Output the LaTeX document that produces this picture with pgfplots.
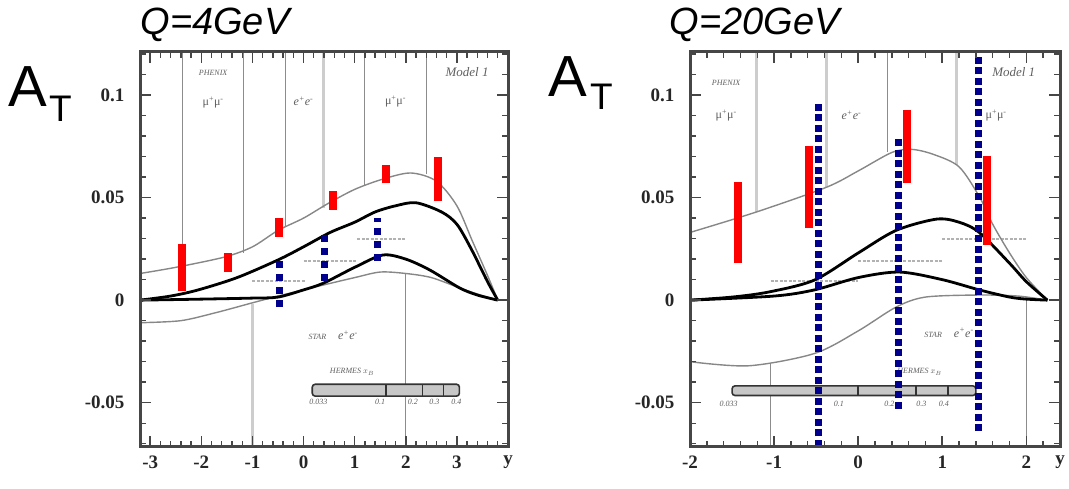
\documentclass[border=0pt]{standalone}
\usepackage{fontspec}
\setmainfont{Liberation Serif}
\newfontfamily\arial{Liberation Sans}
\usepackage{pgfplots}
\pgfplotsset{compat=1.18}
\definecolor{navyb}{RGB}{0,0,140}
\definecolor{thing}{RGB}{135,135,135}
\definecolor{lightv}{RGB}{205,205,205}
\definecolor{lab}{RGB}{95,95,95}
\definecolor{frame}{RGB}{70,70,70}
\pgfplotsset{
 panel/.style={anchor=south west, scale only axis, height=395pt,
   ymin=-0.0716, ymax=0.121,
   ytick={-0.05,0,0.05,0.1}, yticklabels={-0.05,0,0.05,0.1},
   minor ytick={-0.07,-0.06,-0.04,-0.03,-0.02,-0.01,0.01,0.02,0.03,0.04,0.06,0.07,0.08,0.09,0.11,0.12},
   tick align=inside, xtick pos=both, ytick pos=both,
   major tick length=11pt, minor tick length=6pt,
   every outer x axis line/.append style={draw=frame, line width=3pt},
   every outer y axis line/.append style={draw=frame, line width=3pt},
   axis line style={draw=frame, line width=3pt},
   every major tick/.append style={draw=frame, line width=1.6pt},
   every minor tick/.append style={draw=frame, line width=1.4pt},
   tick label style={font=\bfseries\fontsize{19}{19}\selectfont, text=black!85},
   yticklabel style={xshift=-12pt},
   xticklabel style={yshift=-5pt},
   extra x tick style={major tick length=0pt},
   axis on top,
 },
 thinc/.style={thing, line width=1.4pt, smooth},
 thickc/.style={black, line width=2.8pt, smooth},
 redbar/.style={red, line width=8pt, unbounded coords=jump},
 bluebar/.style={navyb, line width=7pt, unbounded coords=jump},
 vthin/.style={black!45, line width=1.2pt, unbounded coords=jump},
 vthick/.style={lightv, line width=3pt, unbounded coords=jump},
 star/.style={black!30, line width=2pt, dash pattern=on 3pt off 1.5pt, unbounded coords=jump},
 hermes/.style={draw=black!80, fill=black!22, line width=1.6pt, rounded corners=3pt},
 hdiv/.style={black!80, line width=1.6pt, unbounded coords=jump},
}
\tikzset{
 lbl/.style={text=lab, font=\itshape\fontsize{8}{8}\selectfont},
 mlbl/.style={text=lab, font=\fontsize{12}{12}\selectfont},
}
\begin{document}
\begin{tikzpicture}
\useasboundingbox (0,0) rectangle (1069pt,489pt);
% ---------------- left panel ----------------
\begin{axis}[panel, at={(140pt,42pt)}, width=368pt,
  xmin=-3.2, xmax=4,
  xtick={-3,-2,-1,0,1,2,3}, xticklabels={-3,-2,-1,0,1,2,3},
  minor xtick={-3.2,-3,...,4},
  extra x ticks={4}, extra x tick labels={y}]
% vertical guide lines
\addplot[vthin] coordinates {(-2.37,0.121) (-2.37,0.016) (-2.37,nan) (-1.18,0.121) (-1.18,0.023) (-1.18,nan) (-0.35,0.121) (-0.35,0.036) (-0.35,nan) (1.2,0.121) (1.2,0.056) (1.2,nan) (2.4,0.121) (2.4,0.0615) (2.4,nan) (2.0,0.013) (2.0,-0.0716)};
\addplot[vthick] coordinates {(0.39,0.121) (0.39,0.045) (0.39,nan) (-1.0,-0.002) (-1.0,-0.0716)};
% STAR bins
\addplot[star] coordinates {(-1.0,0.0093) (0.04,0.0093) (0.04,nan) (0,0.019) (1.05,0.019) (1.05,nan) (1.05,0.030) (2.0,0.030)};
% curves
\addplot[thinc] coordinates {(-3.2,0.013) (-2.5,0.016) (-1.55,0.021) (-1.0,0.026) (-0.5,0.034) (0,0.040) (0.47,0.047) (1.0,0.054) (1.55,0.059) (2.1,0.062) (2.6,0.058) (3.0,0.046) (3.3,0.029) (3.6,0.012) (3.8,0.0)};
\addplot[thinc] coordinates {(-3.2,-0.011) (-2.4,-0.010) (-1.7,-0.006) (-1.03,-0.0015) (-0.5,0.002) (0,0.005) (0.39,0.0074) (1.0,0.011) (1.5,0.0137) (2.0,0.013) (2.5,0.011) (3.05,0.006) (3.4,0.003) (3.8,0)};
\addplot[thickc] coordinates {(-3.2,0) (-2.6,0.002) (-2.06,0.005) (-1.3,0.011) (-0.5,0.0196) (0,0.026) (0.52,0.033) (1.0,0.038) (1.4,0.043) (1.8,0.046) (2.2,0.0475) (2.7,0.043) (3.0,0.037) (3.28,0.025) (3.6,0.009) (3.8,0)};
\addplot[thickc] coordinates {(-3.2,0) (-2,0.0005) (-1,0.001) (-0.5,0.0015) (0,0.005) (0.39,0.0083) (1.0,0.016) (1.55,0.022) (2.0,0.02) (2.47,0.0147) (3.05,0.006) (3.4,0.0025) (3.8,0)};
% HERMES bar
\addplot[hermes] coordinates {(0.17,-0.041) (3.05,-0.041) (3.05,-0.0468) (0.17,-0.0468)} -- cycle;
\addplot[hdiv] coordinates {(1.61,-0.041) (1.61,-0.0468) (1.61,nan) (2.33,-0.041) (2.33,-0.0468) (2.33,nan) (2.74,-0.041) (2.74,-0.0468)};
% data bars
\addplot[redbar] coordinates {(-2.37,0.0044) (-2.37,0.0275) (-2.37,nan) (-1.48,0.0137) (-1.48,0.023) (-1.48,nan) (-0.48,0.031) (-0.48,0.040) (-0.48,nan) (0.58,0.044) (0.58,0.053) (0.58,nan) (1.61,0.057) (1.61,0.066) (1.61,nan) (2.64,0.0485) (2.64,0.070)};
\addplot[bluebar, dash pattern=on 7pt off 6pt] coordinates {(-0.47,-0.0034) (-0.47,0.019) (-0.47,nan) (0.41,0.0093) (0.41,0.032) (0.41,nan) (1.44,0.019) (1.44,0.040)};
% labels
\node[lbl] at (axis cs:-1.77,0.111) {PHENIX};
\node[mlbl] at (axis cs:-1.77,0.0965) {μ\textsuperscript{+}μ\textsuperscript{-}};
\node[mlbl] at (axis cs:0,0.097) {\itshape e\textsuperscript{+}e\textsuperscript{-}};
\node[mlbl] at (axis cs:1.8,0.097) {μ\textsuperscript{+}μ\textsuperscript{-}};
\node[text=lab, font=\itshape\fontsize{13}{13}\selectfont] at (axis cs:3.2,0.111) {Model 1};
\node[text=lab, font=\itshape\fontsize{12}{12}\selectfont] at (axis cs:0.58,-0.017) {{\fontsize{8}{8}\selectfont STAR}\quad e\textsuperscript{+}e\textsuperscript{-}};
\node[lbl] at (axis cs:0.95,-0.035) {HERMES $x_B$};
\node[lbl] at (axis cs:0.29,-0.0497) {0.033};
\node[lbl] at (axis cs:1.5,-0.0497) {0.1};
\node[lbl] at (axis cs:2.14,-0.0497) {0.2};
\node[lbl] at (axis cs:2.56,-0.0497) {0.3};
\node[lbl] at (axis cs:2.99,-0.0497) {0.4};
\end{axis}
% ---------------- right panel ----------------
\begin{axis}[panel, at={(690pt,42pt)}, width=370pt,
  xmin=-2, xmax=2.4,
  xtick={-2,-1,0,1,2}, xticklabels={-2,-1,0,1,2},
  minor xtick={-2,-1.8,...,2.4},
  extra x ticks={2.4}, extra x tick labels={y}]
\addplot[vthick] coordinates {(-1.21,0.121) (-1.21,0.043) (-1.21,nan) (-0.38,0.121) (-0.38,0.055) (-0.38,nan) (1.17,0.121) (1.17,0.066)};
\addplot[vthin] coordinates {(0.35,0.121) (0.35,0.072) (0.35,nan) (-1.04,-0.031) (-1.04,-0.0716) (-1.04,nan) (2.0,0) (2.0,-0.0716)};
\addplot[star] coordinates {(-1.04,0.0093) (0,0.0093) (0,nan) (0,0.019) (1.0,0.019) (1.0,nan) (1.0,0.030) (2.0,0.030)};
\addplot[thinc] coordinates {(-2,0.033) (-1.21,0.043) (-0.38,0.055) (0,0.063) (0.4,0.072) (0.64,0.0735) (0.9,0.071) (1.2,0.065) (1.44,0.0505) (1.6,0.037) (1.8,0.023) (2.0,0.011) (2.25,0)};
\addplot[thinc] coordinates {(-2,-0.030) (-1.3,-0.032) (-0.52,-0.026) (0,-0.015) (0.45,-0.0034) (0.8,0.0015) (1.44,0.0025) (1.9,0.002) (2.25,0)};
\addplot[thickc] coordinates {(-2,0) (-1.5,0.0015) (-1.06,0.004) (-0.52,0.0098) (0,0.023) (0.45,0.034) (0.93,0.0395) (1.2,0.038) (1.44,0.033) (1.8,0.018) (2.0,0.009) (2.25,0)};
\addplot[thickc] coordinates {(-2,0) (-1,0.002) (-0.52,0.005) (0,0.011) (0.49,0.0137) (1.0,0.010) (1.44,0.005) (1.8,0.0015) (2.0,0.0005) (2.25,0)};
\addplot[hermes] coordinates {(-1.5,-0.0418) (1.4,-0.0418) (1.4,-0.0465) (-1.5,-0.0465)} -- cycle;
\addplot[hdiv] coordinates {(0,-0.0418) (0,-0.0465) (0,nan) (0.69,-0.0418) (0.69,-0.0465) (0.69,nan) (1.07,-0.0418) (1.07,-0.0465)};
\node[lbl] at (axis cs:0.73,-0.035) {HERMES $x_B$};
\node[lbl] at (axis cs:-1.54,-0.0505) {0.033};
\node[lbl] at (axis cs:-0.23,-0.0505) {0.1};
\node[lbl] at (axis cs:0.37,-0.0505) {0.2};
\node[lbl] at (axis cs:0.75,-0.0505) {0.3};
\node[lbl] at (axis cs:1.02,-0.0505) {0.4};
\node[lbl] at (axis cs:-1.57,0.106) {PHENIX};
\node[mlbl] at (axis cs:-1.57,0.09) {μ\textsuperscript{+}μ\textsuperscript{-}};
\node[mlbl] at (axis cs:-0.08,0.09) {\itshape e\textsuperscript{+}e\textsuperscript{-}};
\node[mlbl] at (axis cs:1.64,0.09) {μ\textsuperscript{+}μ\textsuperscript{-}};
\node[text=lab, font=\itshape\fontsize{13}{13}\selectfont] at (axis cs:1.85,0.111) {Model 1};
\node[text=lab, font=\itshape\fontsize{12}{12}\selectfont] at (axis cs:1.08,-0.016) {{\fontsize{8}{8}\selectfont STAR}\quad e\textsuperscript{+}e\textsuperscript{-}};
\addplot[redbar] coordinates {(-1.43,0.018) (-1.43,0.0575) (-1.43,nan) (-0.58,0.035) (-0.58,0.075) (-0.58,nan) (0.58,0.057) (0.58,0.0925) (0.58,nan) (1.53,0.027) (1.53,0.0705)};
\addplot[bluebar, dash pattern=on 7pt off 3.5pt] coordinates {(-0.475,-0.0716) (-0.475,0.097) (-0.475,nan) (0.476,-0.053) (0.476,0.080) (0.476,nan) (1.43,-0.064) (1.43,0.1186)};
\end{axis}
% titles and axis names
\node[anchor=base west, font=\arial\itshape\fontsize{38}{38}\selectfont] at (137pt,454pt) {Q=4GeV};
\node[anchor=base west, font=\arial\itshape\fontsize{38}{38}\selectfont] at (666pt,454pt) {Q=20GeV};
\node[anchor=base west, inner sep=0pt, font=\arial\fontsize{58}{58}\selectfont] at (8pt,382pt) {A};
\node[anchor=base west, inner sep=0pt, font=\arial\fontsize{37}{37}\selectfont] at (49pt,367pt) {T};
\node[anchor=base west, inner sep=0pt, font=\arial\fontsize{58}{58}\selectfont] at (548pt,392pt) {A};
\node[anchor=base west, inner sep=0pt, font=\arial\fontsize{37}{37}\selectfont] at (590pt,379pt) {T};
\end{tikzpicture}
\end{document}
